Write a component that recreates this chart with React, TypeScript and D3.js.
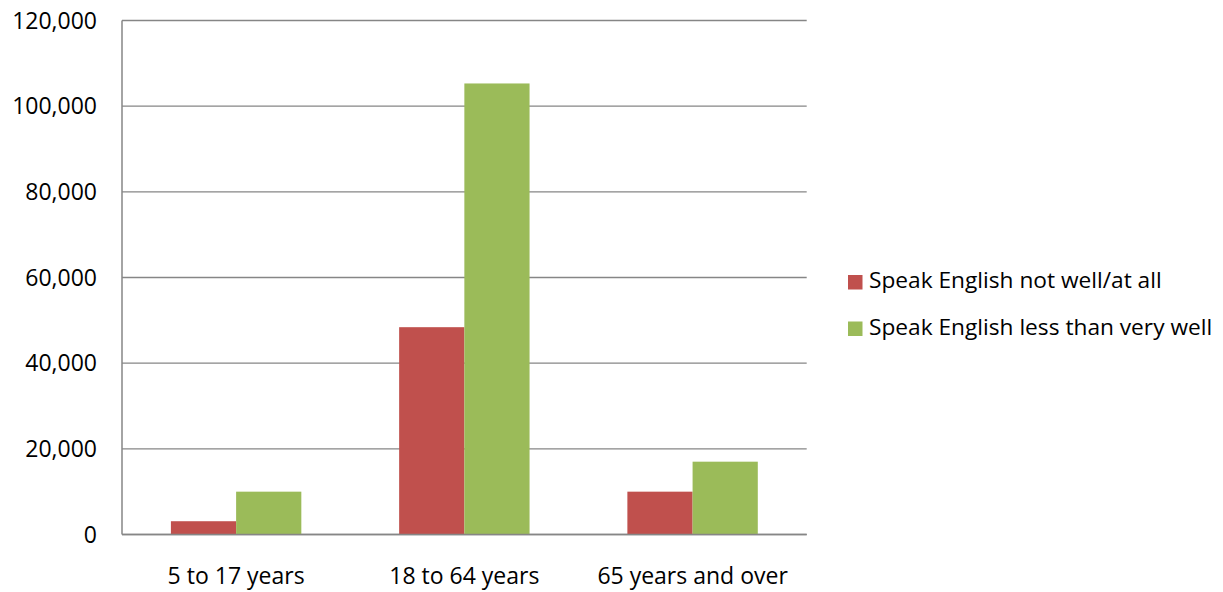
import React from "react";
import * as d3 from "d3";

const categories = ["5 to 17 years", "18 to 64 years", "65 years and over"];
const seriesNames = ["Speak English not well/at all", "Speak English less than very well"];
const notWell = [3100, 48400, 10000];
const lessThanVeryWell = [10000, 105300, 17000];
const yTicks = [0, 20000, 40000, 60000, 80000, 100000, 120000];
const colors = ["#C0504D", "#9BBB59"];

const W = 1223;
const H = 592;
const left = 122;
const right = 806.7;
const top = 20.5;
const bottom = 534.5;
const FONT = "'Open Sans', Lato, sans-serif";

export default function App() {
  const x0 = d3
    .scaleBand<string>()
    .domain(categories)
    .range([left, right])
    .paddingInner(1.5 / 3.5)
    .paddingOuter(0.75 / 3.5);
  const x1 = d3
    .scaleBand<number>()
    .domain([0, 1])
    .range([0, x0.bandwidth()]);
  const y = d3.scaleLinear().domain([0, 120000]).range([bottom, top]);
  const fmt = d3.format(",");
  const series = [notWell, lessThanVeryWell];
  const step = (right - left) / categories.length;

  return (
    <svg
      width={W}
      height={H}
      style={{ position: "absolute", left: 0, top: 0 }}
      fontFamily={FONT}
    >
      <rect x={0} y={0} width={W} height={H} fill="#fff" />
      {yTicks.map((t) => (
        <g key={t}>
          <line
            x1={left}
            x2={right}
            y1={y(t)}
            y2={y(t)}
            stroke="#868686"
            strokeWidth={1.3}
          />
          <text
            x={97}
            y={y(t)}
            dy="0.35em"
            textAnchor="end"
            fontSize={23}
            fill="#000"
          >
            {fmt(t)}
          </text>
        </g>
      ))}
      <line x1={left} x2={left} y1={top} y2={bottom} stroke="#868686" strokeWidth={1.5} />
      {categories.map((c, i) => (
        <g key={c}>
          {series.map((s, j) => (
            <rect
              key={j}
              x={(x0(c) as number) + (x1(j) as number)}
              y={y(s[i])}
              width={x1.bandwidth()}
              height={bottom - y(s[i])}
              fill={colors[j]}
            />
          ))}
          <text
            x={left + step * (i + 0.5)}
            y={584}
            textAnchor="middle"
            fontSize={23}
            fill="#000"
          >
            {c}
          </text>
        </g>
      ))}
      <line x1={left} x2={right} y1={bottom} y2={bottom} stroke="#868686" strokeWidth={1.5} />
      {seriesNames.map((n, j) => (
        <g key={n}>
          <rect x={848} y={275 + j * 46.5} width={14.5} height={14.5} fill={colors[j]} />
          <text x={869} y={288 + j * 47} fontSize={22.7} fill="#000">
            {n}
          </text>
        </g>
      ))}
    </svg>
  );
}
